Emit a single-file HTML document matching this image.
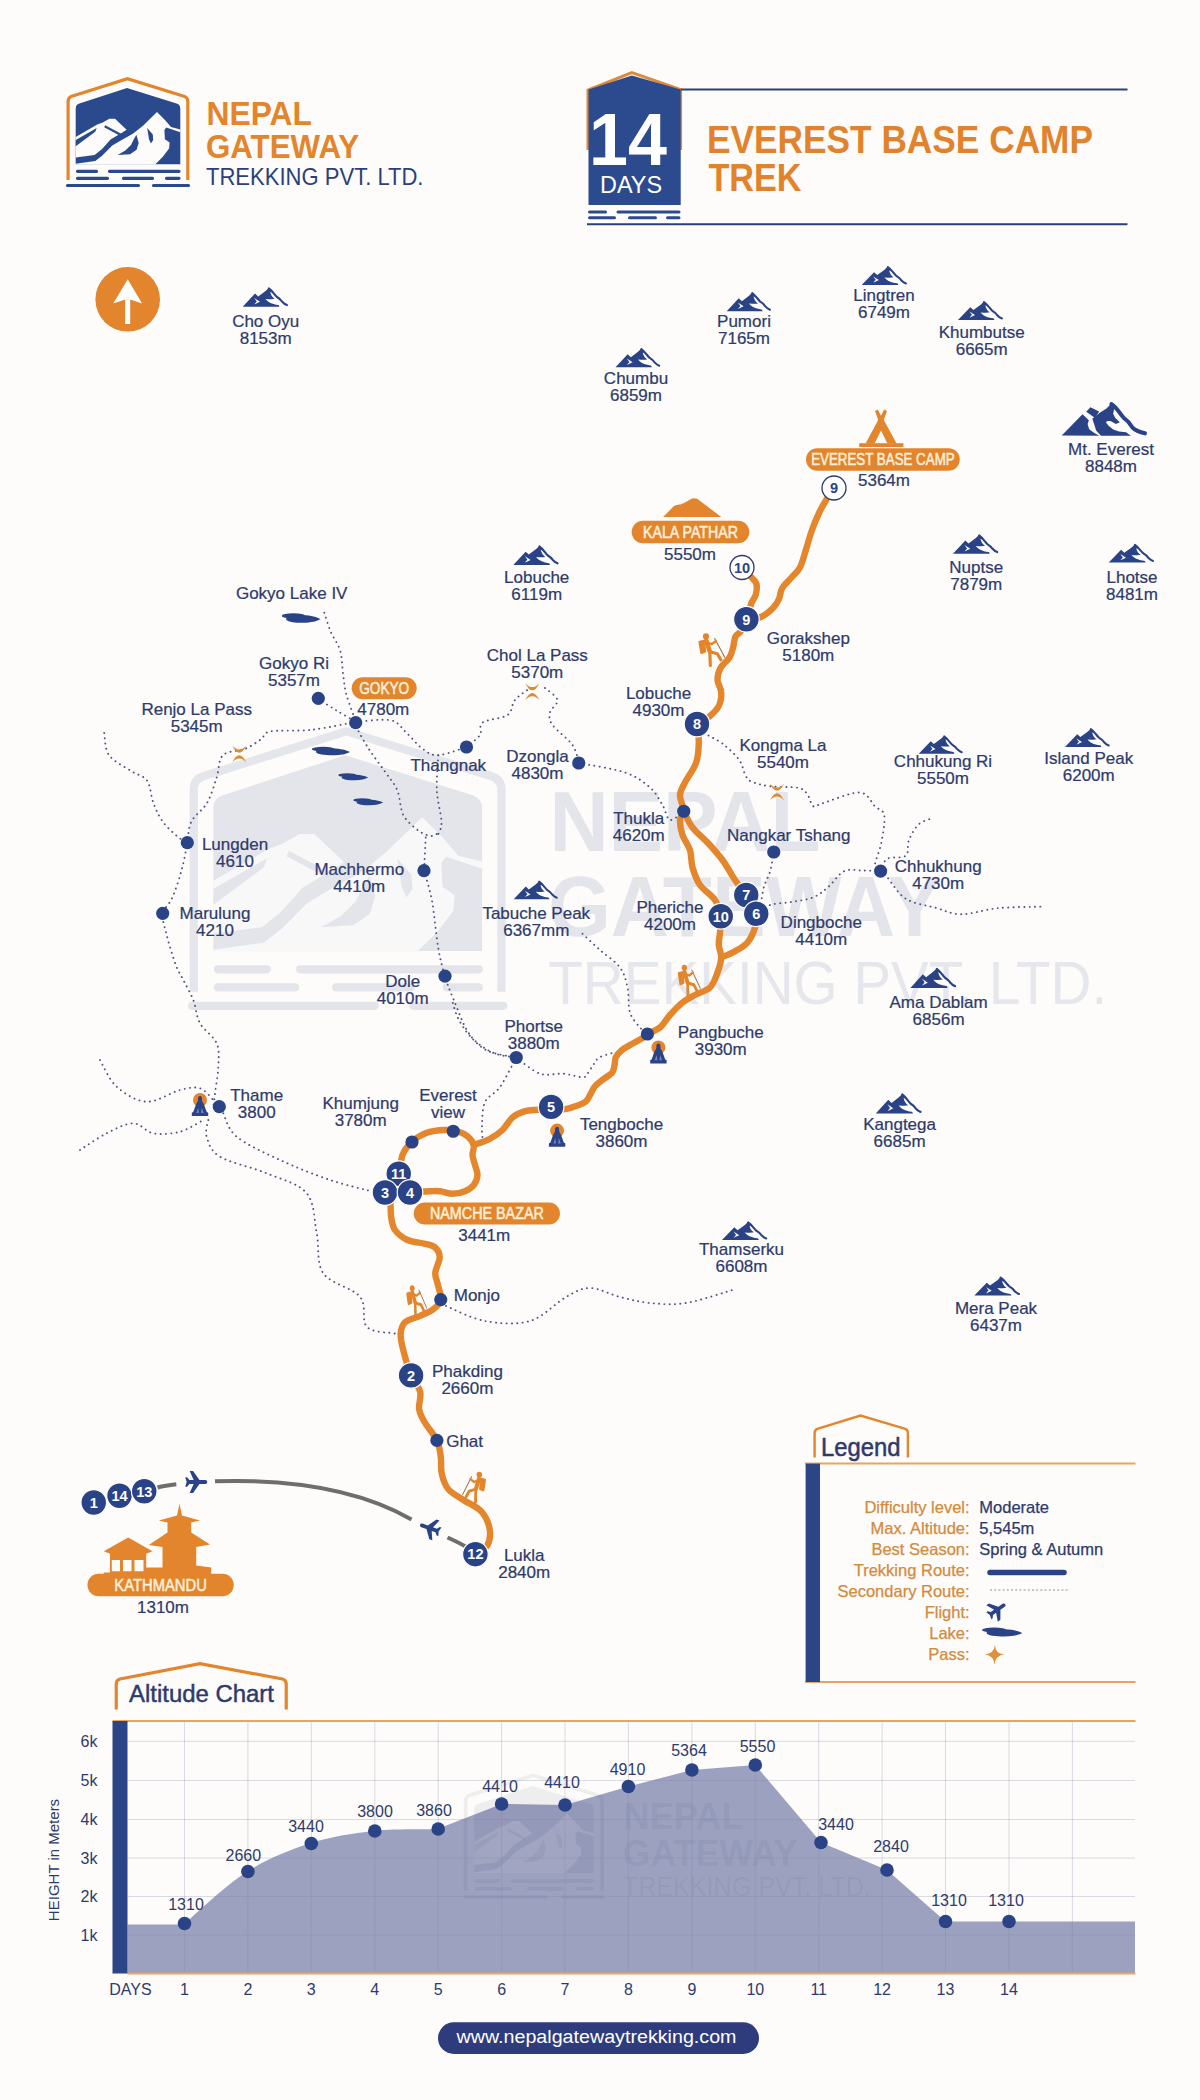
<!DOCTYPE html>
<html><head><meta charset="utf-8"><title>Everest Base Camp Trek Map</title>
<style>html,body{margin:0;padding:0;background:#fdfcfa;}body{width:1200px;height:2100px;position:relative;overflow:hidden;font-family:"Liberation Sans",sans-serif;}</style>
</head><body>
<svg width="1200" height="2100" viewBox="0 0 1200 2100" style="position:absolute;left:0;top:0;display:block">

<defs>
  <!-- small mountain icon -->
  <symbol id="mtn" viewBox="100 108 985 397" preserveAspectRatio="none" overflow="visible">
    <path fill="#2a4386" d="M100,505 L370,226 L440,288 L600,172 L670,106 L730,150 L905,505 Z"/>
    <path fill="#fdfcfa" d="M702,188 C716,248 738,298 800,336 C760,348 700,347 598,340 C650,405 730,448 880,468 L1000,468 L760,205 Z"/>
    <path fill="#fdfcfa" d="M352,318 L478,398 L352,458 L408,392 Z"/>
    <path fill="none" stroke="#2a4386" stroke-width="46" stroke-linecap="round" stroke-linejoin="round" d="M672,118 C740,160 790,240 850,300 C900,330 930,350 960,395 C1000,440 1040,460 1068,470"/>
  </symbol>
  <!-- big mountain icon -->
  <symbol id="mtnbig" viewBox="80 70 1060 405" preserveAspectRatio="none" overflow="visible">
    <g fill="#2a4386">
    <path d="M80,470 L345,205 L425,280 L410,330 L430,390 L500,440 L560,472 Z"/>
    <path d="M392,175 L445,118 L556,172 L505,252 Z"/>
    <path d="M470,262 L560,190 L650,135 L712,72 L765,105 L745,150 L735,200 L760,250 L820,305 L770,325 L700,290 L655,290 L645,310 L680,350 L735,395 L810,420 L900,430 L960,472 L580,472 L520,410 Z"/>
    <path d="M712,80 C780,120 820,200 870,250 C930,290 950,320 980,370 C1020,410 1080,430 1140,442" fill="none" stroke="#2a4386" stroke-width="50" stroke-linecap="round"/>
    </g>
  </symbol>
  <!-- hiker 27x33 facing right -->
  <symbol id="hiker" viewBox="0 0 27 33" preserveAspectRatio="none" overflow="visible">
    <g fill="none" stroke="#e2852c" stroke-linecap="round" stroke-linejoin="round">
      <circle cx="8" cy="2.9" r="3.1" fill="#e2852c" stroke="none"/>
      <path d="M16.7,5 L26.7,23.7" stroke="#9a7350" stroke-width="1.1"/>
      <path d="M8.3,7.2 L11.6,17.5" stroke-width="4.6"/>
      <path d="M11.8,17.5 L12.3,32" stroke-width="3.2"/>
      <path d="M12,18.2 L19.3,20.2 L22.8,26.2" stroke-width="3.2"/>
      <path d="M9.2,9.2 L13.8,10.6 L18,7.6" stroke-width="2.5"/>
      <path d="M1.6,8.4 L6,7.4 L7,18 L3.4,19.4 Z" fill="#e2852c" stroke-width="2.4"/>
    </g>
  </symbol>
  <!-- stupa / buddha  -->
  <symbol id="stupa" viewBox="0 0 18 24" overflow="visible">
    <circle cx="9" cy="7.5" r="7" fill="#e2852c"/>
    <path fill="#2a4386" d="M9,3.6 C10.6,3.6 11.2,5.2 11,7 C10.9,8.2 11.4,9.2 12.2,10.4 C13.2,12 13.8,14 14.6,16.4 L15.8,19.6 L17.2,20.2 L17.2,23.6 L0.8,23.6 L0.8,20.2 L2.2,19.6 L3.4,16.4 C4.2,14 4.8,12 5.8,10.4 C6.6,9.2 7.1,8.2 7,7 C6.8,5.2 7.4,3.6 9,3.6 Z"/>
    <path fill="#8fa2d6" d="M5.4,20.4 L7.2,15 L7.9,20.4 Z M12.6,20.4 L10.8,15 L10.1,20.4 Z" opacity="0.75"/>
  </symbol>
  <!-- pass icon centered at 0,0 -->
  <symbol id="pass" viewBox="-7 -8 14 16" overflow="visible">
    <path fill="#d98d35" d="M-6.3,-7.6 Q0,5.2 6.3,-7.6 Q0,-0.6 -6.3,-7.6 Z M-6.3,7.6 Q0,-5.2 6.3,7.6 Q0,0.6 -6.3,7.6 Z"/>
  </symbol>
  <!-- plane pointing right, centered -->
  <symbol id="plane" viewBox="-11 -11 22 22" overflow="visible">
    <path fill="#2a4386" d="M11,0 C11,-1.3 10.2,-2 9,-2 L3.2,-2 L-3.2,-11 L-6.6,-11 L-2.6,-2 L-6.8,-2 L-9.2,-4.8 L-11,-4.8 L-9.6,0 L-11,4.8 L-9.2,4.8 L-6.8,2 L-2.6,2 L-6.6,11 L-3.2,11 L3.2,2 L9,2 C10.2,2 11,1.3 11,0 Z"/>
  </symbol>
  <!-- lake shape 40x10 -->
  <symbol id="lake" viewBox="0 0 40 9.5" preserveAspectRatio="none" overflow="visible">
    <g fill="#2a4386">
    <ellipse cx="12" cy="2.6" rx="12" ry="2.6"/>
    <path d="M4.5,5.6 C4.5,2.8 14,1.8 22,1.9 C30,2 36.5,3.8 39.8,5.8 C36.5,8 30,9.5 22,9.5 C14,9.5 4.5,8.5 4.5,5.6 Z"/>
    </g>
  </symbol>
</defs>

<defs>
<symbol id="logo" viewBox="0 0 1200 2100" overflow="visible">
  <path d="M68.1,180 L68.1,101.5 Q68.1,97.4 71.8,96.2 L127.5,78.7 L183.9,96.2 Q187.8,97.4 187.8,101.5 L187.8,180" fill="none" stroke="var(--lo)" stroke-width="3.2"/>
  <path d="M75.7,164.2 L75.7,108.6 Q75.7,104.8 79.4,103.6 L127,88 L176.6,103.6 Q180.3,104.8 180.3,108.6 L180.3,164.2 Z" fill="var(--lb)"/>
  <path d="M75.7,164.4 L75.7,163.7 L95.3,160.9 L102.1,155.7 L112.3,145.5 L122.6,139.4 L133.2,133.6 L143.0,125.7 L157.0,112.1 L165.4,120.5 L171.0,127.1 L180.3,129.4 L180.3,132.2 L166.3,127.5 L164.4,129.9 L164.9,139.2 L169.6,142.5 L169.1,148.6 L162.6,157.0 L155.1,164.4 Z" fill="var(--lw)"/>
  <path d="M75.7,136.9 L97.2,124.5 L102.8,122.4 L109.3,118.7 L115.0,118.7 L126.6,129.7 L120.7,133.4 L110.5,139.6 L102.1,148.9 L94.6,154.9 L75.7,157.4 Z" fill="var(--lw)"/>
  <path d="M136.4,134.7 L138.7,143.0 L136.6,149.7 L130.1,154.2 L117.6,154.9 L125.4,150.6 L131.0,145.0 L133.8,139.2 Z M147.2,128.0 L152.8,134.5 L153.2,140.1 L150.9,143.4 L149.0,139.2 Z M75.7,140.1 L96.7,128.0 L95.3,131.7 L75.7,146.2 Z" fill="var(--lb)"/>
  <path d="M104.7,126.3 L120.6,134.7" stroke="var(--lb)" stroke-width="2.3"/>
  <g stroke="var(--lb)" stroke-width="3.2" stroke-linecap="round">
    <path d="M77.5,171.3 H96.5 M109.5,171.3 H179 M77.5,178.3 H107.5 M123.5,178.3 H152.5 M166.5,178.3 H179 M67.5,185.5 H138.5 M153.5,185.5 H188.5"/>
  </g>
  <g font-family="Liberation Sans, sans-serif" font-weight="bold" fill="var(--lt1)">
    <text x="206.5" y="125.4" font-size="33" textLength="105.5" lengthAdjust="spacingAndGlyphs">NEPAL</text>
    <text x="206" y="158.3" font-size="33" textLength="153" lengthAdjust="spacingAndGlyphs">GATEWAY</text>
  </g>
  <text x="206" y="184.8" font-family="Liberation Sans, sans-serif" font-size="24" fill="var(--lt2)" textLength="217.5" lengthAdjust="spacingAndGlyphs">TREKKING PVT. LTD.</text>
</symbol>
</defs>
<rect width="1200" height="2100" fill="#fdfcfa"/>

<use href="#logo" x="0" y="0" width="1200" height="2100" style="--lo:#e2852c;--lb:#2b4a8d;--lw:#fdfcfa;--lt1:#e2852c;--lt2:#2b3f7c"/>
<!-- 14 days badge -->
<path d="M588,150 L588,90 L631.8,72.6 L680.6,89.5 L680.6,150" fill="none" stroke="#dc8a3c" stroke-width="3"/>
<path d="M588.5,205 L588.5,89.6 L631.8,75.6 L680.7,89.6 L680.7,205 Z" fill="#2c4a8e"/>
<text x="589" y="165.2" font-family="Liberation Sans, sans-serif" font-weight="bold" font-size="74" fill="#fff" textLength="78" lengthAdjust="spacingAndGlyphs">14</text>
<text x="600" y="192.8" font-family="Liberation Sans, sans-serif" font-size="24" fill="#fff" textLength="62" lengthAdjust="spacingAndGlyphs">DAYS</text>
<g stroke="#2c4a8e" stroke-width="3" stroke-linecap="round">
  <path d="M589.5,211.9 H605.5 M618,211.9 H679 M589.5,217.8 H614.5 M629.5,217.8 H655.5 M667.5,217.8 H679"/>
</g>
<path d="M587,224.2 H1127.5 M681,89.6 H1127.5" stroke="#2b4177" stroke-width="2"/>
<g font-family="Liberation Sans, sans-serif" font-weight="bold" fill="#e0832c">
  <text x="707" y="153" font-size="39.5" textLength="386" lengthAdjust="spacingAndGlyphs">EVEREST BASE CAMP</text>
  <text x="708.5" y="190.6" font-size="39.5" textLength="93" lengthAdjust="spacingAndGlyphs">TREK</text>
</g>


<use href="#logo" x="0" y="0" width="1200" height="2100" transform="translate(18.75,529.04) scale(2.57)" style="--lo:#e5e6eb;--lb:#e4e5eb;--lw:#f8f8f9;--lt1:#e4e5eb;--lt2:#e6e7ec"/>

<circle cx="127.7" cy="299.3" r="32.3" fill="#e2852c"/>
<path d="M113.3,303.5 L127.7,279.3 L142.1,303.5 L130.2,299.5 L130.2,324 L125.2,324 L125.2,299.5 Z" fill="#fff"/>
<g fill="none" stroke="#4a5580" stroke-width="1.9" stroke-linecap="round" stroke-dasharray="0.1 5.2">
<path d="M324.3,612.7 C325.4,615.9 328.1,625.4 330.7,631.7 C333.3,638.0 338.1,643.3 340.2,650.7 C342.3,658.1 342.2,668.6 343.3,676.0 C344.4,683.4 344.4,687.4 346.5,695.0 C348.6,702.6 354.4,717.4 356.0,721.9"/>
<path d="M318.0,698.8 C321.2,700.8 330.7,706.9 337.0,710.8 C343.3,714.6 352.8,720.0 356.0,721.9"/>
<path d="M356.0,721.9 C348.6,723.2 325.9,728.2 311.7,729.8 C297.4,731.4 278.9,729.8 270.5,731.4 C262.1,733.0 265.2,736.4 261.0,739.3 C256.8,742.2 251.5,746.1 245.2,748.8 C238.9,751.4 227.8,750.5 223.0,755.2 C218.2,760.0 219.3,769.4 216.7,777.3 C214.1,785.2 211.4,795.3 207.2,802.7 C203.0,810.1 194.6,815.1 191.3,821.7 C188.0,828.3 188.1,838.8 187.5,842.2"/>
<path d="M104.2,733.0 C105.0,736.7 104.5,748.9 109.0,755.2 C113.5,761.5 124.9,766.8 131.2,771.0 C137.5,775.2 143.3,775.2 147.0,780.5 C150.7,785.8 150.7,795.8 153.3,802.7 C155.9,809.6 158.6,815.9 162.8,821.7 C167.0,827.5 174.6,834.1 178.7,837.5 C182.8,840.9 186.0,841.4 187.5,842.2"/>
<path d="M187.5,842.2 C186.6,846.7 184.3,860.0 181.8,869.2 C179.3,878.5 175.5,890.3 172.3,897.7 C169.1,905.1 163.9,907.7 162.8,913.5 C161.8,919.3 163.9,924.0 166.0,932.5 C168.1,941.0 172.6,956.3 175.5,964.2 C178.4,972.1 180.3,974.0 183.3,980.0 C186.3,986.0 190.5,992.8 193.3,1000.0 C196.1,1007.2 196.1,1016.1 200.0,1023.3 C203.9,1030.5 213.6,1036.1 216.7,1043.3 C219.8,1050.5 218.6,1058.4 218.3,1066.7 C218.0,1075.0 215.8,1086.6 215.0,1093.3 C214.2,1100.0 213.6,1104.5 213.3,1106.7"/>
<path d="M100.0,1060.0 C102.8,1064.5 108.9,1079.8 116.7,1086.7 C124.5,1093.7 136.1,1101.2 146.7,1101.7 C157.2,1102.2 171.1,1092.2 180.0,1090.0 C188.9,1087.8 194.4,1086.6 200.0,1088.3 C205.6,1090.0 211.1,1098.0 213.3,1100.0"/>
<path d="M80.0,1150.0 C84.5,1147.2 97.8,1137.8 106.7,1133.3 C115.6,1128.8 125.5,1123.3 133.3,1123.3 C141.1,1123.3 145.5,1131.9 153.3,1133.3 C161.1,1134.7 171.7,1133.9 180.0,1131.7 C188.3,1129.5 199.4,1122.0 203.3,1120.0"/>
<path d="M223.3,1113.3 C225.5,1117.2 227.2,1128.9 236.7,1136.7 C246.1,1144.5 264.4,1152.8 280.0,1160.0 C295.6,1167.2 314.4,1174.7 330.0,1180.0 C345.6,1185.3 366.1,1189.8 373.3,1191.7"/>
<path d="M208.3,1120.0 C208.0,1122.8 204.8,1130.6 206.7,1136.7 C208.6,1142.8 210.0,1150.6 220.0,1156.7 C230.0,1162.8 252.2,1167.2 266.7,1173.3 C281.1,1179.4 298.4,1183.3 306.7,1193.3 C315.0,1203.3 313.9,1220.0 316.7,1233.3 C319.5,1246.6 316.1,1262.7 323.3,1273.3 C330.5,1283.9 352.8,1287.8 360.0,1296.7 C367.2,1305.6 361.1,1320.6 366.7,1326.7 C372.2,1332.8 387.8,1332.2 393.3,1333.3 C398.9,1334.4 398.9,1333.3 400.0,1333.3"/>
<path d="M446.0,1306.0 C452.5,1308.5 471.0,1318.5 485.0,1321.0 C499.0,1323.5 516.5,1325.0 530.0,1321.0 C543.5,1317.0 556.0,1302.5 566.0,1297.0 C576.0,1291.5 581.0,1288.0 590.0,1288.0 C599.0,1288.0 610.0,1294.5 620.0,1297.0 C630.0,1299.5 639.0,1302.0 650.0,1303.0 C661.0,1304.0 672.0,1305.2 686.0,1303.0 C700.0,1300.8 726.0,1291.8 734.0,1289.5"/>
<path d="M356.0,721.9 C361.8,721.6 382.4,718.4 390.8,720.3 C399.2,722.1 401.4,728.2 406.7,733.0 C412.0,737.8 417.2,745.1 422.5,748.8 C427.8,752.5 431.0,755.5 438.3,755.2 C445.6,754.9 461.8,748.4 466.5,747.0"/>
<path d="M466.5,747.0 C468.8,745.0 477.3,739.1 480.0,735.0 C482.7,730.9 477.9,725.8 482.5,722.5 C487.1,719.2 502.1,718.8 507.5,715.0 C512.9,711.2 511.2,704.5 515.0,700.0 C518.8,695.5 527.5,690.0 530.0,688.0"/>
<path d="M356.0,726.7 C358.1,730.4 363.9,741.4 368.7,748.8 C373.4,756.2 379.8,764.1 384.5,771.0 C389.2,777.9 394.0,782.6 397.2,790.0 C400.4,797.4 399.8,808.4 403.5,815.3 C407.2,822.2 414.6,827.8 419.3,831.2 C424.1,834.7 428.8,835.8 432.0,836.0 C435.2,836.2 437.2,833.2 438.3,832.7"/>
<path d="M438.3,755.2 C438.1,761.0 436.3,778.9 436.8,790.0 C437.3,801.1 441.2,814.3 441.5,821.7 C441.8,829.1 438.8,832.2 438.3,834.3"/>
<path d="M425.7,837.5 C425.4,843.0 424.3,865.2 424.0,870.7"/>
<path d="M424.0,870.7 C425.3,875.7 429.6,887.9 432.0,900.8 C434.4,913.7 436.1,935.7 438.3,948.3 C440.5,960.9 442.4,967.6 445.0,976.2 C447.6,984.8 449.6,990.2 453.8,1000.0 C457.9,1009.8 463.5,1026.2 470.0,1035.0 C476.5,1043.8 484.8,1048.8 492.5,1052.5 C500.2,1056.2 512.3,1056.7 516.2,1057.5"/>
<path d="M545.0,688.0 C547.1,690.0 556.7,695.9 557.5,700.0 C558.3,704.1 550.8,708.3 550.0,712.5 C549.2,716.7 548.8,719.6 552.5,725.0 C556.2,730.4 568.1,738.7 572.5,745.0 C576.9,751.3 577.7,760.0 578.8,763.0"/>
<path d="M578.8,763.0 C586.5,764.6 613.1,768.4 625.0,772.5 C636.9,776.6 643.8,782.1 650.0,787.5 C656.2,792.9 659.2,799.6 662.5,805.0 C665.8,810.4 666.5,819.0 670.0,820.0 C673.5,821.0 681.5,812.7 683.8,811.2"/>
<path d="M582.5,933.8 C585.4,936.5 593.8,944.4 600.0,950.0 C606.2,955.6 615.4,961.2 620.0,967.5 C624.6,973.8 625.8,980.0 627.5,987.5 C629.2,995.0 627.9,1005.8 630.0,1012.5 C632.1,1019.2 637.1,1024.0 640.0,1027.5 C642.9,1031.0 646.2,1032.7 647.5,1033.8"/>
<path d="M516.2,1057.5 C511.5,1056.4 495.7,1054.6 488.0,1051.0 C480.3,1047.4 475.0,1041.5 470.0,1036.0 C465.0,1030.5 461.0,1024.0 458.0,1018.0 C455.0,1012.0 453.0,1003.0 452.0,1000.0"/>
<path d="M516.2,1057.5 C520.2,1060.2 532.2,1071.0 540.0,1073.7 C547.8,1076.4 556.1,1073.1 563.3,1073.7 C570.5,1074.3 578.9,1077.6 583.2,1077.2 C587.5,1076.8 587.2,1073.5 589.0,1071.3 C590.8,1069.1 592.0,1066.6 593.7,1064.3 C595.5,1062.0 596.2,1059.2 599.5,1057.3 C602.8,1055.4 611.2,1053.5 613.5,1052.7"/>
<path d="M516.2,1057.5 C513.5,1062.4 505.2,1079.6 500.0,1087.0 C494.8,1094.4 488.0,1095.5 485.0,1102.0 C482.0,1108.5 482.4,1120.1 482.0,1126.0 C481.6,1131.9 482.4,1135.6 482.5,1137.5"/>
<path d="M708.5,735.4 C711.1,737.0 718.8,740.6 723.9,744.7 C729.0,748.8 735.7,755.0 739.3,760.1 C742.9,765.2 743.4,771.9 745.5,775.5 C747.6,779.1 747.6,779.9 751.7,781.7 C755.8,783.5 762.5,785.3 770.2,786.3 C777.9,787.3 791.7,786.5 797.9,787.8 C804.1,789.1 804.6,790.9 807.2,794.0 C809.8,797.1 810.7,804.8 813.3,806.3 C815.9,807.8 814.9,805.6 822.6,803.3 C830.3,801.0 850.9,792.0 859.6,792.5 C868.3,793.0 870.9,802.4 875.0,806.3 C879.1,810.1 883.3,809.4 884.3,815.6 C885.3,821.8 882.8,835.1 881.2,843.3 C879.7,851.5 875.1,860.3 875.0,864.9 C874.9,869.5 879.7,870.1 880.6,871.1"/>
<path d="M773.8,852.0 C773.2,855.2 771.8,865.4 770.2,871.1 C768.6,876.9 765.5,881.4 764.0,886.5 C762.5,891.6 762.2,897.5 760.9,901.9 C759.6,906.3 756.8,911.1 756.0,913.0"/>
<path d="M756.0,913.0 C758.4,911.7 764.2,906.9 770.2,905.0 C776.2,903.1 784.6,903.2 791.8,901.9 C799.0,900.6 807.1,899.9 813.3,897.3 C819.5,894.7 823.6,890.9 828.8,886.5 C833.9,882.1 838.6,873.8 844.2,871.1 C849.9,868.4 856.6,870.5 862.7,870.5 C868.8,870.5 877.6,871.0 880.6,871.1"/>
<path d="M880.6,871.1 C881.7,869.0 883.1,861.4 887.3,858.8 C891.5,856.2 902.2,858.8 905.8,855.7 C909.4,852.6 906.8,845.4 908.9,840.3 C911.0,835.1 914.6,828.4 918.2,824.8 C921.8,821.2 928.5,819.7 930.5,818.7"/>
<path d="M880.6,871.1 C881.7,872.1 883.1,872.7 887.3,877.3 C891.5,881.9 897.6,893.7 905.8,898.8 C914.0,903.9 927.5,905.5 936.7,908.1 C946.0,910.7 951.0,914.3 961.3,914.3 C971.6,914.3 985.0,909.4 998.4,908.1 C1011.8,906.8 1034.3,906.9 1041.5,906.6"/>
</g>
<g fill="none" stroke="#6e6e6e" stroke-width="4">
<path d="M157.5,1487.5 Q165,1485.5 176.3,1484.3"/>
<path d="M215,1481.3 C290,1479 360,1490 411.5,1519.5"/>
<path d="M447.5,1537.5 Q460,1543 468,1548"/>
</g>
<g fill="none" stroke="#e3862c" stroke-width="6.4" stroke-linecap="round" stroke-linejoin="round">
<path d="M834.0,488.0 C832.7,490.0 828.7,496.0 826.2,500.0 C823.8,504.0 821.9,507.0 819.5,512.0 C817.1,517.0 814.2,523.8 812.0,530.0 C809.8,536.2 808.0,543.2 806.0,549.5 C804.0,555.8 802.5,562.8 800.0,567.5 C797.5,572.2 794.0,574.5 791.0,578.0 C788.0,581.5 784.0,585.0 782.0,588.5 C780.0,592.0 780.5,595.8 779.0,599.0 C777.5,602.2 776.0,605.0 773.0,608.0 C770.0,611.0 765.4,615.1 761.0,617.0 C756.6,618.9 748.8,618.9 746.4,619.2"/>
<path d="M742.0,567.5 C743.7,569.2 749.6,575.2 752.0,578.0 C754.4,580.8 755.9,581.2 756.5,584.0 C757.1,586.8 756.6,591.2 755.8,594.5 C754.9,597.8 752.4,600.5 751.2,603.5 C750.1,606.5 749.8,609.9 749.0,612.5 C748.2,615.1 746.8,618.1 746.4,619.2"/>
<path d="M746.4,619.2 C745.6,621.1 743.3,627.6 741.5,630.5 C739.7,633.4 736.9,633.8 735.5,636.5 C734.1,639.2 734.2,643.5 733.2,647.0 C732.2,650.5 731.6,654.0 729.5,657.5 C727.4,661.0 722.5,664.2 720.5,668.0 C718.5,671.8 717.4,676.0 717.5,680.0 C717.6,684.0 721.0,687.8 721.2,692.0 C721.5,696.2 720.9,701.5 719.0,705.5 C717.1,709.5 713.7,712.9 710.0,716.0 C706.3,719.1 699.2,722.7 697.0,724.0"/>
<path d="M697.0,724.0 C697.3,727.1 698.9,736.1 698.8,742.5 C698.6,748.9 698.5,755.8 696.2,762.5 C694.0,769.2 687.7,777.1 685.0,782.5 C682.3,787.9 680.2,790.2 680.0,795.0 C679.8,799.8 683.8,807.1 683.8,811.2 C683.8,815.4 680.2,816.0 680.0,820.0 C679.8,824.0 680.8,830.0 682.5,835.0 C684.2,840.0 688.3,844.6 690.0,850.0 C691.7,855.4 690.8,861.7 692.5,867.5 C694.2,873.3 696.2,879.6 700.0,885.0 C703.8,890.4 711.5,894.8 715.0,900.0 C718.5,905.2 719.8,913.5 720.8,916.2"/>
<path d="M683.8,811.2 C685.2,814.0 688.5,822.3 692.5,827.5 C696.5,832.7 702.5,837.1 707.5,842.5 C712.5,847.9 717.9,853.8 722.5,860.0 C727.1,866.2 731.0,874.2 735.0,880.0 C739.0,885.8 744.4,892.5 746.2,895.0"/>
<path d="M720.8,916.2 C720.6,919.0 720.3,927.7 720.0,932.5 C719.7,937.3 718.5,940.8 718.8,945.0 C719.0,949.2 721.5,952.9 721.2,957.5 C721.0,962.1 719.4,967.5 717.5,972.5 C715.6,977.5 713.8,983.8 710.0,987.5 C706.2,991.2 699.6,992.5 695.0,995.0 C690.4,997.5 686.7,999.2 682.5,1002.5 C678.3,1005.8 673.8,1010.8 670.0,1015.0 C666.2,1019.2 663.8,1024.3 660.0,1027.5 C656.2,1030.7 650.5,1032.1 647.4,1034.0 C644.3,1035.9 644.2,1037.0 641.5,1038.7 C638.8,1040.5 634.3,1042.6 631.0,1044.5 C627.7,1046.4 624.2,1048.2 621.7,1050.3 C619.2,1052.4 617.0,1055.0 615.8,1057.3 C614.6,1059.6 615.3,1061.8 614.7,1064.3 C614.1,1066.8 614.2,1070.0 612.3,1072.5 C610.3,1075.0 605.9,1077.2 603.0,1079.5 C600.1,1081.8 596.9,1084.0 594.8,1086.5 C592.7,1089.0 591.8,1092.2 590.2,1094.7 C588.7,1097.2 588.0,1099.8 585.5,1101.7 C583.0,1103.6 578.7,1105.0 575.0,1106.3 C571.3,1107.6 567.3,1109.2 563.3,1109.3 C559.3,1109.4 553.0,1107.4 551.0,1107.0"/>
<path d="M721.2,957.5 C723.5,956.5 730.6,953.8 735.0,951.2 C739.4,948.8 744.2,946.5 747.5,942.5 C750.8,938.5 753.5,932.3 755.0,927.5 C756.5,922.7 756.0,916.0 756.2,913.8"/>
<path d="M551.0,1107.0 C549.2,1107.4 544.3,1108.8 540.0,1109.5 C535.7,1110.2 529.6,1109.9 525.0,1111.2 C520.4,1112.6 516.2,1114.4 512.5,1117.5 C508.8,1120.6 506.2,1126.5 502.5,1130.0 C498.8,1133.5 494.8,1136.2 490.0,1138.8 C485.2,1141.2 476.5,1144.0 473.8,1145.0"/>
<path d="M385.0,1192.5 C387.3,1189.4 395.8,1180.0 398.8,1173.8 C401.7,1167.5 400.2,1160.4 402.5,1155.0 C404.8,1149.6 408.3,1145.0 412.5,1141.2 C416.7,1137.5 422.1,1134.4 427.5,1132.5 C432.9,1130.6 440.0,1130.2 445.0,1130.0 C450.0,1129.8 453.8,1130.2 457.5,1131.2 C461.2,1132.3 464.8,1134.0 467.5,1136.2 C470.2,1138.5 472.9,1141.9 473.8,1145.0 C474.6,1148.1 472.3,1151.7 472.5,1155.0 C472.7,1158.3 474.2,1161.7 475.0,1165.0 C475.8,1168.3 477.7,1171.7 477.5,1175.0 C477.3,1178.3 475.8,1182.3 473.8,1185.0 C471.7,1187.7 468.5,1189.8 465.0,1191.2 C461.5,1192.7 456.7,1193.8 452.5,1193.8 C448.3,1193.8 443.8,1191.7 440.0,1191.2 C436.2,1190.8 435.0,1191.0 430.0,1191.2 C425.0,1191.5 413.3,1192.3 410.0,1192.5"/>
<path d="M385.0,1192.5 C385.8,1193.8 389.0,1195.8 390.0,1200.0 C391.0,1204.2 390.4,1212.5 391.2,1217.5 C392.1,1222.5 392.3,1226.2 395.0,1230.0 C397.7,1233.8 402.5,1237.7 407.5,1240.0 C412.5,1242.3 420.4,1242.5 425.0,1243.8 C429.6,1245.0 432.9,1245.3 435.3,1247.6 C437.8,1249.9 439.7,1253.1 439.7,1257.3 C439.7,1261.5 435.7,1268.2 435.3,1272.5 C434.9,1276.8 436.6,1278.8 437.5,1283.3 C438.4,1287.8 441.5,1295.3 440.8,1299.6 C440.0,1303.9 436.6,1306.6 433.2,1309.3 C429.8,1312.0 424.9,1313.6 420.2,1315.8 C415.5,1318.0 408.2,1319.4 405.0,1322.3 C401.8,1325.2 401.1,1328.9 400.7,1333.2 C400.3,1337.5 401.1,1341.3 402.8,1348.3 C404.5,1355.3 408.2,1368.2 411.1,1375.4 C414.0,1382.6 418.9,1386.1 420.2,1391.7 C421.5,1397.3 418.4,1404.0 419.1,1409.0 C419.8,1414.0 421.5,1416.8 424.5,1422.0 C427.5,1427.2 434.2,1434.6 436.9,1440.4 C439.6,1446.2 439.9,1451.1 440.8,1456.7 C441.6,1462.3 440.5,1468.6 441.8,1474.0 C443.1,1479.4 444.7,1484.9 448.3,1489.2 C451.9,1493.5 458.1,1496.4 463.5,1500.0 C468.9,1503.6 476.5,1506.2 480.8,1510.9 C485.1,1515.6 488.4,1522.4 489.5,1528.2 C490.6,1534.0 489.7,1541.2 487.3,1545.5 C484.9,1549.8 477.4,1552.8 475.4,1554.2"/>
</g>
<use href="#lake" x="281.7" y="613.3" width="39" height="9.5" preserveAspectRatio="none"/>
<use href="#lake" x="311.7" y="746.7" width="38.3" height="8.5" preserveAspectRatio="none"/>
<use href="#lake" x="338.3" y="773.3" width="30" height="7" preserveAspectRatio="none"/>
<use href="#lake" x="353.3" y="798.3" width="30" height="7" preserveAspectRatio="none"/>
<use href="#mtn" x="242.7" y="288" width="45" height="18.7" preserveAspectRatio="none"/>
<use href="#mtn" x="726.7" y="292.7" width="44" height="18.6" preserveAspectRatio="none"/>
<use href="#mtn" x="615.5" y="348.7" width="44.5" height="18.6" preserveAspectRatio="none"/>
<use href="#mtn" x="861.7" y="266.7" width="45" height="18.3" preserveAspectRatio="none"/>
<use href="#mtn" x="958" y="301.7" width="44.7" height="18.3" preserveAspectRatio="none"/>
<use href="#mtn" x="953" y="535" width="45" height="18.75" preserveAspectRatio="none"/>
<use href="#mtn" x="1108.75" y="544.5" width="45" height="18" preserveAspectRatio="none"/>
<use href="#mtn" x="513.3" y="546" width="45" height="19" preserveAspectRatio="none"/>
<use href="#mtn" x="918.75" y="736" width="43.75" height="17.75" preserveAspectRatio="none"/>
<use href="#mtn" x="1065" y="728.75" width="44.5" height="18.25" preserveAspectRatio="none"/>
<use href="#mtn" x="513.75" y="881.25" width="43.75" height="18" preserveAspectRatio="none"/>
<use href="#mtn" x="910.4" y="968.4" width="45.5" height="19.5" preserveAspectRatio="none"/>
<use href="#mtn" x="875.8" y="1094" width="45.5" height="19.6" preserveAspectRatio="none"/>
<use href="#mtn" x="722" y="1222" width="45" height="18" preserveAspectRatio="none"/>
<use href="#mtn" x="974.3" y="1277.2" width="45.5" height="18.4" preserveAspectRatio="none"/>
<use href="#mtnbig" x="1061.7" y="403.3" width="83.3" height="32.7" preserveAspectRatio="none"/>
<g fill="#e2852c">
<rect x="859.2" y="443.2" width="44.2" height="3.8"/>
<path d="M865.6,443.6 L878.2,420 L875,411 L877.8,409.6 L881,415.8 L884.2,409.6 L887,411 L883.8,420 L896.6,443.6 L887.4,443.6 L881,430.5 L874.6,443.6 Z"/>
</g>
<path d="M663.1,517 L674,506 Q677,504 680.5,504.5 L684,503 L692,498.6 Q695,497.6 697.5,499 L721.3,517 Z" fill="#e2852c"/>
<rect x="806" y="448.2" width="153.8" height="22.6" rx="11.3" fill="#e2852c"/>
<text x="882.9" y="465.1" text-anchor="middle" font-family="Liberation Sans, sans-serif" font-size="16.3" fill="#fdf0dc" stroke="#fdf0dc" stroke-width="0.5" textLength="143.5" lengthAdjust="spacingAndGlyphs">EVEREST BASE CAMP</text>
<rect x="631.7" y="520.7" width="117.6" height="22.6" rx="11.3" fill="#e2852c"/>
<text x="690.5" y="537.6" text-anchor="middle" font-family="Liberation Sans, sans-serif" font-size="16.3" fill="#fdf0dc" stroke="#fdf0dc" stroke-width="0.5" textLength="95" lengthAdjust="spacingAndGlyphs">KALA PATHAR</text>
<rect x="351.7" y="677.3" width="65.0" height="22.0" rx="11.0" fill="#e2852c"/>
<text x="384.2" y="693.9" text-anchor="middle" font-family="Liberation Sans, sans-serif" font-size="16.3" fill="#fdf0dc" stroke="#fdf0dc" stroke-width="0.5" textLength="50" lengthAdjust="spacingAndGlyphs">GOKYO</text>
<rect x="413.75" y="1202.5" width="146.2" height="22.0" rx="11.0" fill="#e2852c"/>
<text x="486.9" y="1219.1" text-anchor="middle" font-family="Liberation Sans, sans-serif" font-size="16.3" fill="#fdf0dc" stroke="#fdf0dc" stroke-width="0.5" textLength="114" lengthAdjust="spacingAndGlyphs">NAMCHE BAZAR</text>
<rect x="87.5" y="1573.75" width="146.2" height="22.5" rx="11.2" fill="#e2852c"/>
<text x="160.6" y="1590.6" text-anchor="middle" font-family="Liberation Sans, sans-serif" font-size="16.3" fill="#fdf0dc" stroke="#fdf0dc" stroke-width="0.5" textLength="92.5" lengthAdjust="spacingAndGlyphs">KATHMANDU</text>
<path d="M179.5,1503.8 L182.0,1515.5 L200.0,1520.5 L191.2,1522.5 L191.2,1532.5 L210.0,1544.5 L196.2,1547.0 L196.2,1565.5 L211.2,1567.5 L211.2,1575.0 L103.8,1575.0 L103.8,1572.5 L110.0,1572.5 L110.0,1553.8 L103.8,1551.2 L128.2,1537.5 L152.5,1551.2 L146.2,1553.8 L146.2,1567.5 L162.5,1567.5 L162.5,1547.0 L148.8,1545.0 L167.5,1532.5 L167.5,1522.5 L158.8,1520.5 L177.0,1515.5 Z" fill="#e2852c"/>
<path d="M111.8,1560.0 L120.0,1560.0 L120.0,1571.2 L111.8,1571.2 Z M123.0,1560.0 L131.5,1560.0 L131.5,1571.2 L123.0,1571.2 Z M134.5,1560.0 L143.5,1560.0 L143.5,1571.2 L134.5,1571.2 Z" fill="#fdfcfa"/>
<use href="#hiker" x="698" y="633.5" width="27" height="33" preserveAspectRatio="none"/>
<use href="#hiker" x="677.5" y="965" width="23" height="32.5" preserveAspectRatio="none"/>
<use href="#hiker" x="406" y="1285.5" width="21" height="31.5" preserveAspectRatio="none"/>
<g transform="translate(486.4,1471.9) scale(-1,1)"><use href="#hiker" x="0" y="0" width="24" height="31.4" preserveAspectRatio="none"/></g>
<use href="#stupa" x="191" y="1092.5" width="18" height="24"/>
<use href="#stupa" x="548.1" y="1123.1" width="18" height="24"/>
<use href="#stupa" x="649.4" y="1039.9" width="18" height="24"/>
<use href="#pass" x="524.3" y="682.7" width="16" height="18"/>
<use href="#pass" x="231.3" y="745" width="16" height="18"/>
<use href="#pass" x="769" y="783" width="16" height="18"/>
<use href="#plane" x="185.25" y="1471" width="22" height="22"/>
<g transform="translate(430,1528.3) rotate(200)"><use href="#plane" x="-10.5" y="-10.5" width="21" height="21"/></g>
<circle cx="318.3" cy="698.3" r="6.6" fill="#2a4386"/>
<circle cx="355.7" cy="722.7" r="6.6" fill="#2a4386"/>
<circle cx="466.5" cy="747" r="6.6" fill="#2a4386"/>
<circle cx="578.75" cy="763" r="6.6" fill="#2a4386"/>
<circle cx="187.3" cy="842.7" r="6.6" fill="#2a4386"/>
<circle cx="424" cy="870.7" r="6.6" fill="#2a4386"/>
<circle cx="162.7" cy="913.3" r="6.6" fill="#2a4386"/>
<circle cx="445" cy="976.2" r="6.6" fill="#2a4386"/>
<circle cx="516.25" cy="1057.5" r="6.6" fill="#2a4386"/>
<circle cx="219.3" cy="1106.7" r="6.6" fill="#2a4386"/>
<circle cx="412" cy="1142" r="6.6" fill="#2a4386"/>
<circle cx="453.25" cy="1131.25" r="6.6" fill="#2a4386"/>
<circle cx="440.75" cy="1299.6" r="6.6" fill="#2a4386"/>
<circle cx="436.9" cy="1440.4" r="6.6" fill="#2a4386"/>
<circle cx="683.75" cy="811.25" r="6.6" fill="#2a4386"/>
<circle cx="773.75" cy="852" r="6.6" fill="#2a4386"/>
<circle cx="880.6" cy="871.1" r="6.6" fill="#2a4386"/>
<circle cx="647.4" cy="1034" r="6.6" fill="#2a4386"/>
<circle cx="93.75" cy="1502.5" r="12.8" fill="#2a4386" stroke="#fdfcfa" stroke-width="1.2"/>
<circle cx="119.5" cy="1495.75" r="12.8" fill="#2a4386" stroke="#fdfcfa" stroke-width="1.2"/>
<circle cx="144.25" cy="1491.25" r="12.8" fill="#2a4386" stroke="#fdfcfa" stroke-width="1.2"/>
<circle cx="411.1" cy="1375.4" r="12.8" fill="#2a4386" stroke="#fdfcfa" stroke-width="1.2"/>
<circle cx="398.75" cy="1173.75" r="12.8" fill="#2a4386" stroke="#fdfcfa" stroke-width="1.2"/>
<circle cx="385" cy="1192.5" r="12.8" fill="#2a4386" stroke="#fdfcfa" stroke-width="1.2"/>
<circle cx="410" cy="1192.5" r="12.8" fill="#2a4386" stroke="#fdfcfa" stroke-width="1.2"/>
<circle cx="551.1" cy="1106.9" r="12.8" fill="#2a4386" stroke="#fdfcfa" stroke-width="1.2"/>
<circle cx="720.75" cy="916.25" r="12.8" fill="#2a4386" stroke="#fdfcfa" stroke-width="1.2"/>
<circle cx="746.25" cy="895" r="12.8" fill="#2a4386" stroke="#fdfcfa" stroke-width="1.2"/>
<circle cx="756.25" cy="913.75" r="12.8" fill="#2a4386" stroke="#fdfcfa" stroke-width="1.2"/>
<circle cx="697" cy="724" r="12.8" fill="#2a4386" stroke="#fdfcfa" stroke-width="1.2"/>
<circle cx="746.4" cy="619.25" r="12.8" fill="#2a4386" stroke="#fdfcfa" stroke-width="1.2"/>
<circle cx="475.4" cy="1554.2" r="12.8" fill="#2a4386" stroke="#fdfcfa" stroke-width="1.2"/>
<text x="93.75" y="1507.7" text-anchor="middle" font-family="Liberation Sans, sans-serif" font-weight="bold" font-size="14.5" fill="#fff">1</text>
<text x="119.5" y="1501.0" text-anchor="middle" font-family="Liberation Sans, sans-serif" font-weight="bold" font-size="14.5" fill="#fff">14</text>
<text x="144.25" y="1496.5" text-anchor="middle" font-family="Liberation Sans, sans-serif" font-weight="bold" font-size="14.5" fill="#fff">13</text>
<text x="411.1" y="1380.6" text-anchor="middle" font-family="Liberation Sans, sans-serif" font-weight="bold" font-size="14.5" fill="#fff">2</text>
<text x="398.75" y="1179.0" text-anchor="middle" font-family="Liberation Sans, sans-serif" font-weight="bold" font-size="14.5" fill="#fff">11</text>
<text x="385" y="1197.7" text-anchor="middle" font-family="Liberation Sans, sans-serif" font-weight="bold" font-size="14.5" fill="#fff">3</text>
<text x="410" y="1197.7" text-anchor="middle" font-family="Liberation Sans, sans-serif" font-weight="bold" font-size="14.5" fill="#fff">4</text>
<text x="551.1" y="1112.1" text-anchor="middle" font-family="Liberation Sans, sans-serif" font-weight="bold" font-size="14.5" fill="#fff">5</text>
<text x="720.75" y="921.5" text-anchor="middle" font-family="Liberation Sans, sans-serif" font-weight="bold" font-size="14.5" fill="#fff">10</text>
<text x="746.25" y="900.2" text-anchor="middle" font-family="Liberation Sans, sans-serif" font-weight="bold" font-size="14.5" fill="#fff">7</text>
<text x="756.25" y="919.0" text-anchor="middle" font-family="Liberation Sans, sans-serif" font-weight="bold" font-size="14.5" fill="#fff">6</text>
<text x="697" y="729.2" text-anchor="middle" font-family="Liberation Sans, sans-serif" font-weight="bold" font-size="14.5" fill="#fff">8</text>
<text x="746.4" y="624.5" text-anchor="middle" font-family="Liberation Sans, sans-serif" font-weight="bold" font-size="14.5" fill="#fff">9</text>
<text x="475.4" y="1559.4" text-anchor="middle" font-family="Liberation Sans, sans-serif" font-weight="bold" font-size="14.5" fill="#fff">12</text>
<circle cx="834" cy="488" r="12" fill="#fff" stroke="#2e3a6c" stroke-width="1.3"/>
<text x="834" y="493.2" text-anchor="middle" font-family="Liberation Sans, sans-serif" font-weight="bold" font-size="14.5" fill="#2a4386">9</text>
<circle cx="742" cy="567.5" r="12" fill="#fff" stroke="#2e3a6c" stroke-width="1.3"/>
<text x="742" y="572.7" text-anchor="middle" font-family="Liberation Sans, sans-serif" font-weight="bold" font-size="14.5" fill="#2a4386">10</text>
<g font-family="Liberation Sans, sans-serif" font-size="17" fill="#2e3a6c" stroke="#2e3a6c" stroke-width="0.22" text-anchor="middle">
<text x="265.7" y="326.8">Cho Oyu</text>
<text x="265.7" y="343.8">8153m</text>
<text x="744" y="327.1">Pumori</text>
<text x="744" y="344.1">7165m</text>
<text x="636" y="383.5">Chumbu</text>
<text x="636" y="400.5">6859m</text>
<text x="884" y="301.1">Lingtren</text>
<text x="884" y="318.1">6749m</text>
<text x="981.7" y="337.8">Khumbutse</text>
<text x="981.7" y="354.8">6665m</text>
<text x="1111" y="455.1">Mt. Everest</text>
<text x="1111" y="472.1">8848m</text>
<text x="976.25" y="573.0">Nuptse</text>
<text x="976.25" y="590.0">7879m</text>
<text x="1132" y="583.0">Lhotse</text>
<text x="1132" y="600.0">8481m</text>
<text x="536.7" y="582.5">Lobuche</text>
<text x="536.7" y="599.5">6119m</text>
<text x="291.7" y="599.1">Gokyo Lake IV</text>
<text x="808.3" y="643.5">Gorakshep</text>
<text x="808.3" y="660.5">5180m</text>
<text x="294" y="669.1">Gokyo Ri</text>
<text x="294" y="686.1">5357m</text>
<text x="537.3" y="661.1">Chol La Pass</text>
<text x="537.3" y="678.1">5370m</text>
<text x="196.7" y="715.1">Renjo La Pass</text>
<text x="196.7" y="732.1">5345m</text>
<text x="658.5" y="698.8">Lobuche</text>
<text x="658.5" y="715.8">4930m</text>
<text x="783" y="750.5">Kongma La</text>
<text x="783" y="767.5">5540m</text>
<text x="943" y="766.8">Chhukung Ri</text>
<text x="943" y="783.8">5550m</text>
<text x="1088.75" y="764.3">Island Peak</text>
<text x="1088.75" y="781.3">6200m</text>
<text x="448.3" y="771.1">Thangnak</text>
<text x="537.5" y="761.8">Dzongla</text>
<text x="537.5" y="778.8">4830m</text>
<text x="638.75" y="824.3">Thukla</text>
<text x="638.75" y="841.3">4620m</text>
<text x="788.75" y="840.5">Nangkar Tshang</text>
<text x="235" y="850.1">Lungden</text>
<text x="235" y="867.1">4610</text>
<text x="359.3" y="875.1">Machhermo</text>
<text x="359.3" y="892.1">4410m</text>
<text x="938.2" y="872.1">Chhukhung</text>
<text x="938.2" y="889.1">4730m</text>
<text x="670" y="913.0">Pheriche</text>
<text x="670" y="930.0">4200m</text>
<text x="821.25" y="928.0">Dingboche</text>
<text x="821.25" y="945.0">4410m</text>
<text x="215" y="919.1">Marulung</text>
<text x="215" y="936.1">4210</text>
<text x="536.25" y="918.8">Tabuche Peak</text>
<text x="536.25" y="935.8">6367mm</text>
<text x="402.7" y="986.8">Dole</text>
<text x="402.7" y="1003.8">4010m</text>
<text x="938.6" y="1008.4">Ama Dablam</text>
<text x="938.6" y="1025.4">6856m</text>
<text x="533.75" y="1031.8">Phortse</text>
<text x="533.75" y="1048.8">3880m</text>
<text x="720.75" y="1038.0">Pangbuche</text>
<text x="720.75" y="1055.0">3930m</text>
<text x="256.7" y="1101.1">Thame</text>
<text x="256.7" y="1118.1">3800</text>
<text x="360.7" y="1108.5">Khumjung</text>
<text x="360.7" y="1125.5">3780m</text>
<text x="448" y="1100.5">Everest</text>
<text x="448" y="1117.5">view</text>
<text x="621.5" y="1129.8">Tengboche</text>
<text x="621.5" y="1146.8">3860m</text>
<text x="899.6" y="1129.8">Kangtega</text>
<text x="899.6" y="1146.8">6685m</text>
<text x="741.5" y="1255.4">Thamserku</text>
<text x="741.5" y="1272.4">6608m</text>
<text x="996" y="1313.9">Mera Peak</text>
<text x="996" y="1330.9">6437m</text>
<text x="467.4" y="1377.0">Phakding</text>
<text x="467.4" y="1394.0">2660m</text>
<text x="524.2" y="1560.6">Lukla</text>
<text x="524.2" y="1577.6">2840m</text>
<text x="484.25" y="1240.5">3441m</text>
<text x="884" y="486.2">5364m</text>
<text x="690" y="560.1">5550m</text>
<text x="383.3" y="715.1">4780m</text>
<text x="163" y="1613.0">1310m</text>
</g>
<g font-family="Liberation Sans, sans-serif" font-size="17" fill="#2e3a6c" stroke="#2e3a6c" stroke-width="0.22">
<text x="453.75" y="1300.55">Monjo</text><text x="446.2" y="1446.8">Ghat</text>
</g>
<path d="M814.6,1457.5 L814.6,1433 Q814.6,1429.6 818,1428.6 L860.5,1415.6 L904.6,1428.6 Q907.9,1429.6 907.9,1433 L907.9,1457.5" fill="none" stroke="#e2852c" stroke-width="2.4"/>
<text x="821" y="1455.5" font-family="Liberation Sans, sans-serif" font-size="25" fill="#2e3a6c" stroke="#2e3a6c" stroke-width="0.5" textLength="79.5" lengthAdjust="spacingAndGlyphs">Legend</text>
<path d="M805,1463.6 H1135.5 M805,1682 H1135.5" stroke="#e7a561" stroke-width="2"/>
<rect x="805.6" y="1463.6" width="14.4" height="218.4" fill="#2c4587"/>

<g font-family="Liberation Sans, sans-serif" font-size="16.5" stroke-width="0.25">
<text x="969.6" y="1512.5" text-anchor="end" fill="#d38a3d" stroke="#d38a3d">Difficulty level:</text>
<text x="979.3" y="1512.5" fill="#2e3a6c" stroke="#2e3a6c">Moderate</text>
<text x="969.6" y="1533.5" text-anchor="end" fill="#d38a3d" stroke="#d38a3d">Max. Altitude:</text>
<text x="979.3" y="1533.5" fill="#2e3a6c" stroke="#2e3a6c">5,545m</text>
<text x="969.6" y="1554.5" text-anchor="end" fill="#d38a3d" stroke="#d38a3d">Best Season:</text>
<text x="979.3" y="1554.5" fill="#2e3a6c" stroke="#2e3a6c">Spring &amp; Autumn</text>
<text x="969.6" y="1575.5" text-anchor="end" fill="#d38a3d" stroke="#d38a3d">Trekking Route:</text>
<text x="969.6" y="1596.5" text-anchor="end" fill="#d38a3d" stroke="#d38a3d">Secondary Route:</text>
<text x="969.6" y="1617.5" text-anchor="end" fill="#d38a3d" stroke="#d38a3d">Flight:</text>
<text x="969.6" y="1638.5" text-anchor="end" fill="#d38a3d" stroke="#d38a3d">Lake:</text>
<text x="969.6" y="1659.5" text-anchor="end" fill="#d38a3d" stroke="#d38a3d">Pass:</text>
</g>
<path d="M990,1572.5 H1064" stroke="#2a4386" stroke-width="5.5" stroke-linecap="round"/>
<path d="M990,1590 H1070" stroke="#8a8fa8" stroke-width="1" stroke-dasharray="2 2.2"/>
<g transform="translate(997,1610) rotate(-35)"><use href="#plane" x="-10" y="-10" width="20" height="20"/></g>
<use href="#lake" x="982" y="1627.5" width="40.5" height="9" preserveAspectRatio="none"/>
<path d="M995,1645 Q995.2,1653.6 1004,1654.5 Q995.2,1655.4 994.5,1665 Q993.8,1655.4 985,1654.5 Q993.8,1653.6 995,1645 Z" fill="#e0903a"/>

<path d="M116.25,1709.5 L116.25,1684 Q116.25,1680 120,1679 L200,1663.75 L282.5,1679 Q286.25,1680 286.25,1684 L286.25,1709.5" fill="none" stroke="#e2852c" stroke-width="3.2"/>
<text x="129" y="1702" font-family="Liberation Sans, sans-serif" font-size="23" fill="#2e3a6c" stroke="#2e3a6c" stroke-width="0.45" textLength="145" lengthAdjust="spacingAndGlyphs">Altitude Chart</text>

<path d="M127.5,1973.5 L127.5,1924.5 L184,1924.5 C194.4,1914.9 225.6,1885.3 246.5,1872.0 C267.4,1858.7 288.3,1850.3 309.5,1843.5 C330.7,1836.7 352.3,1833.4 373.5,1831.0 C394.7,1828.6 426.0,1829.6 436.5,1829.3 L501.6,1804.0 L565.0,1805.0 L628.4,1786.5 L691.9,1770.0 L755.3,1765.0 L821.0,1842.5 L887.0,1870.0 L945.5,1921.5 L1009.0,1921.5 L1135.0,1921.5 L1135,1973.5 Z" fill="#9ca1c0"/>
<use href="#logo" x="0" y="0" width="1200" height="2100" transform="translate(388,1685.6) scale(1.14)" style="--lo:rgba(40,50,100,0.07);--lb:rgba(40,50,100,0.07);--lw:rgba(255,255,255,0.12);--lt1:rgba(40,50,100,0.08);--lt2:rgba(40,50,100,0.07)"/>
<path d="M127.5,1741.25 H1135 M127.5,1780.5 H1135 M127.5,1819.5 H1135 M127.5,1858 H1135 M127.5,1896.5 H1135 M127.5,1935 H1135 M184.5,1721 V1973 M247.9,1721 V1973 M311.3,1721 V1973 M374.8,1721 V1973 M438.2,1721 V1973 M501.6,1721 V1973 M565.0,1721 V1973 M628.4,1721 V1973 M691.9,1721 V1973 M755.3,1721 V1973 M818.7,1721 V1973 M882.1,1721 V1973 M945.5,1721 V1973 M1009.0,1721 V1973 M1072.4,1721 V1973" stroke="#7c82a6" stroke-opacity="0.28" stroke-width="1" fill="none"/>
<path d="M112.5,1721 H1135.5 M127.5,1973.5 H1135.5" stroke="#e7a561" stroke-width="2"/>
<rect x="112.5" y="1721" width="15" height="252.5" fill="#2c4587"/>
<circle cx="184.5" cy="1923.5" r="6.8" fill="#2a4386"/>
<circle cx="247.9" cy="1871.5" r="6.8" fill="#2a4386"/>
<circle cx="311.3" cy="1843.5" r="6.8" fill="#2a4386"/>
<circle cx="374.8" cy="1831" r="6.8" fill="#2a4386"/>
<circle cx="438.2" cy="1829" r="6.8" fill="#2a4386"/>
<circle cx="501.6" cy="1804" r="6.8" fill="#2a4386"/>
<circle cx="565.0" cy="1805" r="6.8" fill="#2a4386"/>
<circle cx="628.4" cy="1786.5" r="6.8" fill="#2a4386"/>
<circle cx="691.9" cy="1770" r="6.8" fill="#2a4386"/>
<circle cx="755.3" cy="1765" r="6.8" fill="#2a4386"/>
<circle cx="821.0" cy="1842.5" r="6.8" fill="#2a4386"/>
<circle cx="887.0" cy="1870" r="6.8" fill="#2a4386"/>
<circle cx="945.5" cy="1921.5" r="6.8" fill="#2a4386"/>
<circle cx="1009.0" cy="1921.5" r="6.8" fill="#2a4386"/>
<g font-family="Liberation Sans, sans-serif" font-size="16" fill="#2e3a6c" text-anchor="middle">
<text x="186" y="1909.6">1310</text>
<text x="243.3" y="1860.6">2660</text>
<text x="306" y="1831.6">3440</text>
<text x="375" y="1817.1">3800</text>
<text x="434" y="1815.6">3860</text>
<text x="500" y="1791.6">4410</text>
<text x="562" y="1787.6">4410</text>
<text x="627.5" y="1774.6">4910</text>
<text x="689" y="1755.6">5364</text>
<text x="757.5" y="1751.6">5550</text>
<text x="836" y="1829.6">3440</text>
<text x="891" y="1852.1">2840</text>
<text x="949" y="1905.6">1310</text>
<text x="1006" y="1905.6">1310</text>
<text x="97.5" y="1746.8" text-anchor="end">6k</text>
<text x="97.5" y="1786.1" text-anchor="end">5k</text>
<text x="97.5" y="1825.1" text-anchor="end">4k</text>
<text x="97.5" y="1863.6" text-anchor="end">3k</text>
<text x="97.5" y="1902.1" text-anchor="end">2k</text>
<text x="97.5" y="1940.6" text-anchor="end">1k</text>
<text x="184.5" y="1995">1</text>
<text x="247.9" y="1995">2</text>
<text x="311.3" y="1995">3</text>
<text x="374.8" y="1995">4</text>
<text x="438.2" y="1995">5</text>
<text x="501.6" y="1995">6</text>
<text x="565.0" y="1995">7</text>
<text x="628.4" y="1995">8</text>
<text x="691.9" y="1995">9</text>
<text x="755.3" y="1995">10</text>
<text x="818.7" y="1995">11</text>
<text x="882.1" y="1995">12</text>
<text x="945.5" y="1995">13</text>
<text x="1009.0" y="1995">14</text>
<text x="130.5" y="1995">DAYS</text>
<text transform="translate(59,1860) rotate(-90)" font-size="15">HEIGHT in Meters</text>
</g>
<rect x="438" y="2022.3" width="321" height="31.7" rx="15.85" fill="#2e3c7d"/>
<text x="596.5" y="2042.6" text-anchor="middle" font-family="Liberation Sans, sans-serif" font-size="18" fill="#fff" textLength="280" lengthAdjust="spacingAndGlyphs">www.nepalgatewaytrekking.com</text>
</svg>
</body></html>
